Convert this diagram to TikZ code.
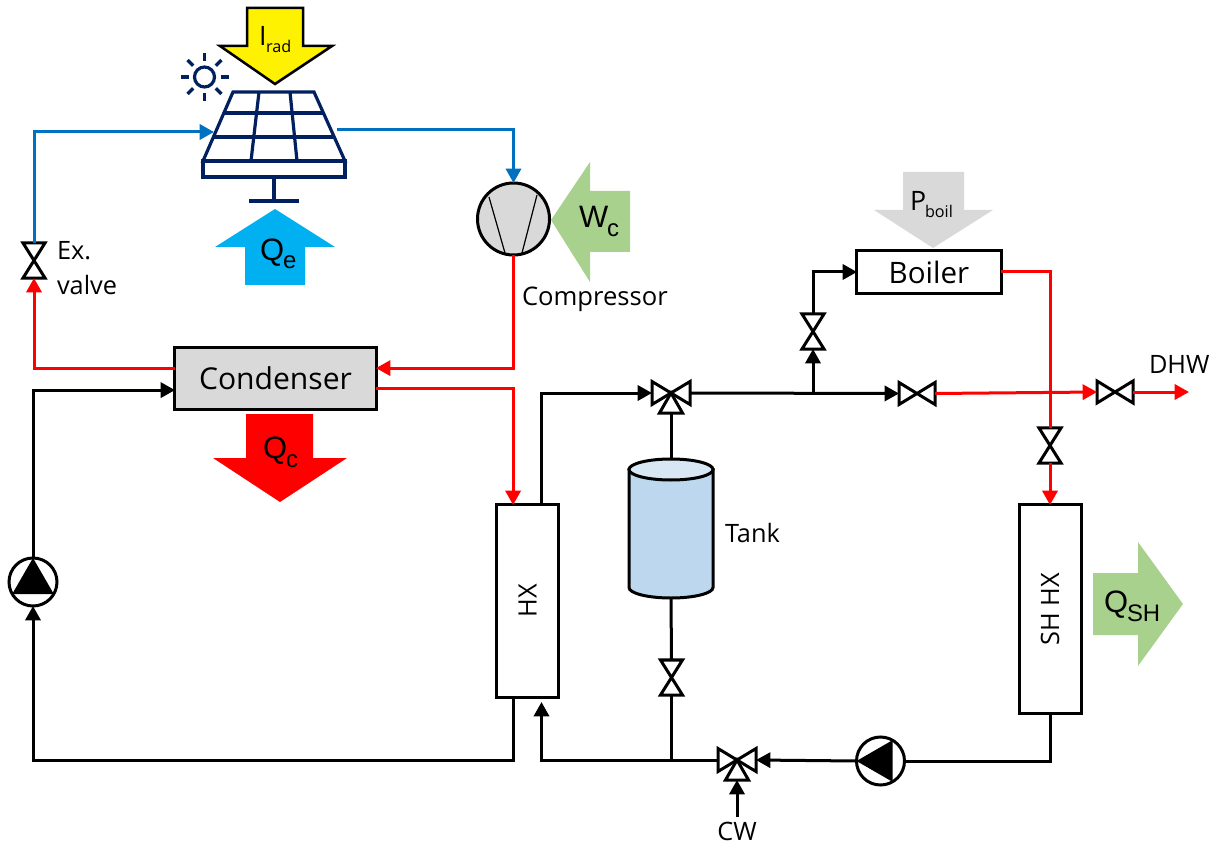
\documentclass[tikz,border=0pt]{standalone}
\usepackage{fontspec}
\setmainfont{Open Sans}
\newfontfamily\arialfont{Liberation Sans}
\usetikzlibrary{arrows.meta,calc}

\definecolor{pipeblue}{HTML}{0070C0}
\definecolor{navy}{HTML}{002060}
\definecolor{heatblue}{HTML}{00B0F0}
\definecolor{heatgreen}{HTML}{A9D18E}
\definecolor{lightgrey}{HTML}{D9D9D9}
\definecolor{tankblue}{HTML}{BDD7EE}
\definecolor{tanklid}{HTML}{D9E7F5}

\begin{document}
\begin{tikzpicture}[
  x=0.025cm, y=-0.025cm,
  font=\fontsize{18}{20}\selectfont,
  >={Triangle[length=0.36cm,width=0.38cm]},
  pipe/.style={line width=0.075cm, line join=miter},
  redpipe/.style={pipe, draw=red},
  bluepipe/.style={pipe, draw=pipeblue},
  box/.style={draw, line width=0.075cm, outer sep=0pt, inner sep=0pt},
  valvebox/.style={outer sep=0pt, inner sep=0pt},
  valveline/.style={draw, fill=white, line width=0.075cm},
  pumpnode/.style={circle, draw, fill=white, line width=0.075cm, minimum size=1.2cm, outer sep=0pt, inner sep=0pt},
  panelline/.style={draw=navy, line width=0.08cm},
  lab/.style={anchor=base west, inner sep=0pt, outer sep=0pt},
  bigsym/.style={lab, font=\arialfont\fontsize{22}{24}\selectfont},
  smallsym/.style={lab, font=\arialfont\fontsize{17}{18}\selectfont},
  thinsym/.style={lab, font=\fontsize{19}{20}\selectfont},
  thinsub/.style={lab, font=\fontsize{11.5}{12}\selectfont},
]
\useasboundingbox (0,0) rectangle (1216,846);

% ── Block arrows for the heat and power flows ───────────────────────────
\filldraw[fill=yellow, draw=black, line width=0.0625cm, line join=miter]
  (247,8) -- (303,8) -- (303,46) -- (332,46) -- (275,84) -- (220,46) -- (247,46) -- cycle;
\node[thinsym] (irad) at (259,46) {I};
\node[thinsub] (iradsub) at (266,53) {rad};

\fill[heatblue]
  (275,209) -- (335,247) -- (305,247) -- (305,285) -- (245,285) -- (245,247) -- (215,247) -- cycle;
\node[bigsym] (qe) at (260,261) {Q};
\node[smallsym] (qesub) at (283,269) {e};

\fill[red]
  (246,414) -- (313,414) -- (313,458) -- (347,458) -- (280,502) -- (213,458) -- (246,458) -- cycle;
\node[bigsym] (qc) at (263,458) {Q};
\node[smallsym] (qcsub) at (286,467) {c};

\fill[heatgreen]
  (551,220) -- (590,162) -- (590,191) -- (630,191) -- (630,252) -- (590,252) -- (590,282) -- cycle;
\node[bigsym] (wc) at (579,228) {W};
\node[smallsym] (wcsub) at (607,237) {c};

\fill[lightgrey]
  (903,172) -- (964,172) -- (964,210) -- (993,210) -- (933,248) -- (874,210) -- (903,210) -- cycle;
\node[thinsym] (pboil) at (910,211) {P};
\node[thinsub] (pboilsub) at (925,218) {boil};

\fill[heatgreen]
  (1093,573) -- (1138,573) -- (1138,542) -- (1183,604) -- (1138,666) -- (1138,635) -- (1093,635) -- cycle;
\node[bigsym] (qsh) at (1104,612) {Q};
\node[smallsym] (qshsub) at (1127,621) {SH};

% ── Sun and solar panel ─────────────────────────────────────────────────
\coordinate (sun) at (204.5,77);
\draw[panelline] (sun) circle (10);
\foreach \ang in {0,45,...,315} {
  \draw[panelline] ($(sun)+(\ang:16)$) -- ($(sun)+(\ang:24)$);
}
\draw[panelline, fill=white] (233,92) -- (314,92) -- (345,161) -- (203,161) -- cycle;
\draw[panelline] (224,113) -- (323,113);
\draw[panelline] (214,137) -- (333,137);
\draw[panelline] (259,92) -- (251,161);
\draw[panelline] (290,92) -- (297,161);
\draw[panelline] (203,161) rectangle (345,177);
\draw[panelline] (274,177) -- (274,201);
\draw[panelline] (249,201) -- (299,201);
\coordinate (panelin) at (214,132);
\coordinate (panelout) at (337,130);

% ── Main components ─────────────────────────────────────────────────────
\node[box, circle, fill=lightgrey, minimum size=1.8cm] (comp) at (513.5,219) {};
\draw[line width=0.03cm] (489,197) -- (505,253);
\draw[line width=0.03cm] (537,195) -- (522,253);
\node[box, fill=lightgrey, minimum width=5.025cm, minimum height=1.525cm, font=\fontsize{21.4}{23}\selectfont]
  (condenser) at (275.5,378.5) {\raisebox{-1.4pt}{Condenser}};
\node[box, minimum width=3.6cm, minimum height=1.05cm, font=\fontsize{21}{23}\selectfont]
  (boiler) at (929,272) {Boiler};
\node[box, minimum width=1.525cm, minimum height=4.8cm] (hx) at (527.5,601) {};
\node[rotate=90, inner sep=0pt] (hxlabel) at (hx.center) {HX};
\node[box, minimum width=1.55cm, minimum height=5.2cm] (shhx) at (1050,609) {};
\node[rotate=90, inner sep=0pt] (shhxlabel) at (shhx.center) {SH HX};

% Tank: body first, then the lid on top of it
\node[valvebox, minimum width=2.1cm, minimum height=3.48cm] (tank) at (671,528.5) {};
\draw[box, fill=tankblue] (629,469.5) -- (629,587.5)
  arc[start angle=180, end angle=0, x radius=42, y radius=10.5] -- (713,469.5) -- cycle;
\draw[box, fill=tanklid] (671,469.5) ellipse[x radius=42, y radius=10.5];

% ── Two-way valves, one entry per valve: name, x, y ─────────────────────
\foreach \name/\x/\y in {exvalve/34/260.5, upvalve/813/331.5, shvalve/1050/445.5, tankvalve/671.5/677.5} {
  \node[valvebox, minimum width=0.55cm, minimum height=0.875cm] (\name) at (\x,\y) {};
  \draw[valveline] (\name.north west) -- (\name.north east) -- (\name.south west) -- (\name.south east) -- cycle;
}
\foreach \name/\x/\y in {hotvalve/917/393.5, dhwvalve/1115/392} {
  \node[valvebox, minimum width=0.9cm, minimum height=0.55cm] (\name) at (\x,\y) {};
  \draw[valveline] (\name.south west) -- (\name.north west) -- (\name.south east) -- (\name.north east) -- cycle;
}

% ── Three-way valves ────────────────────────────────────────────────────
\foreach \name/\x/\y in {mixvalve/671/393, coldvalve/737/760} {
  \node[valvebox, minimum width=0.95cm, minimum height=0.575cm] (\name) at (\x,\y) {};
  \draw[valveline] (\name.south west) -- (\name.north west) -- (\name.south east) -- (\name.north east) -- cycle;
  \coordinate (\name-b) at (\x,\y+20);
  \draw[valveline] (\name.center) -- (\x-11.5,\y+20) -- (\x+11.5,\y+20) -- cycle;
}

% ── Pumps: name, x, y, direction of the triangle ────────────────────────
\foreach \name/\x/\y/\ang in {hppump/33/582/90, shpump/880.5/761/180} {
  \node[pumpnode] (\name) at (\x,\y) {};
  \pgfmathtruncatemacro\angb{\ang+120}
  \pgfmathtruncatemacro\angc{\ang+240}
  \fill (\name.\ang) -- (\name.\angb) -- (\name.\angc) -- cycle;
}

% ── Heat pump circuit ───────────────────────────────────────────────────
\draw[bluepipe, ->] (exvalve.north) |- (panelin);
\draw[bluepipe, ->] (panelout) -| (comp.north);
\draw[redpipe, ->] (comp.south) |- ([yshift=0.26cm]condenser.east);
\draw[redpipe, ->] ([yshift=0.26cm]condenser.west) -| (exvalve.south);
\draw[redpipe, ->] ([yshift=-0.26cm]condenser.east) -| ([xshift=-0.36cm]hx.north);
\draw[pipe, ->] (hppump.north) |- ([yshift=-0.29cm]condenser.west);
\draw[pipe, ->] ([xshift=-0.36cm]hx.south) -- ++(0,63) -| (hppump.south);

% ── Storage and boiler circuit ──────────────────────────────────────────
\draw[pipe, ->] ([xshift=0.34cm]hx.north) |- (mixvalve.west);
\draw[pipe] (mixvalve-b) -- (tank.north);
\draw[pipe] (tank.south) -- (tankvalve.north);
\draw[pipe] (tankvalve.south) -- (tankvalve.south |- coldvalve.west);
\draw[pipe, ->] (mixvalve.east) -- (hotvalve.west);
\draw[pipe, ->] (upvalve.south |- mixvalve.east) -- (upvalve.south);
\draw[pipe, ->] (upvalve.north) |- (boiler.west);
\draw[redpipe] (boiler.east) -| (shvalve.north);
\draw[redpipe, ->] (shvalve.south) -- (shhx.north);
\draw[redpipe, ->] (hotvalve.east) -- (dhwvalve.west);
\coordinate (dhwend) at (1189,392);
\draw[redpipe, ->] (dhwvalve.east) -- (dhwend);

% ── Return line ─────────────────────────────────────────────────────────
\coordinate (hxreturn) at (541.5,702);
\draw[pipe, ->] (coldvalve.west) -| (hxreturn);
\draw[pipe, ->] (shpump.west) -- (coldvalve.east);
\draw[pipe] (shhx.south) |- (shpump.east);
\node[anchor=base, inner sep=0.1cm] (cw) at (737,840) {CW};
\draw[pipe, ->] (cw.north) -- (coldvalve-b);

% ── Free labels ─────────────────────────────────────────────────────────
\node[lab] (exlabel) at (57,260) {Ex.};
\node[lab] (valvelabel) at (57,295) {valve};
\node[lab, font=\fontsize{18.2}{20}\selectfont] (complabel) at (522,305) {Compressor};
\node[lab] (tanklabel) at (725,542) {Tank};
\node[lab] (dhwlabel) at (1149,373) {DHW};

\end{tikzpicture}
\end{document}
